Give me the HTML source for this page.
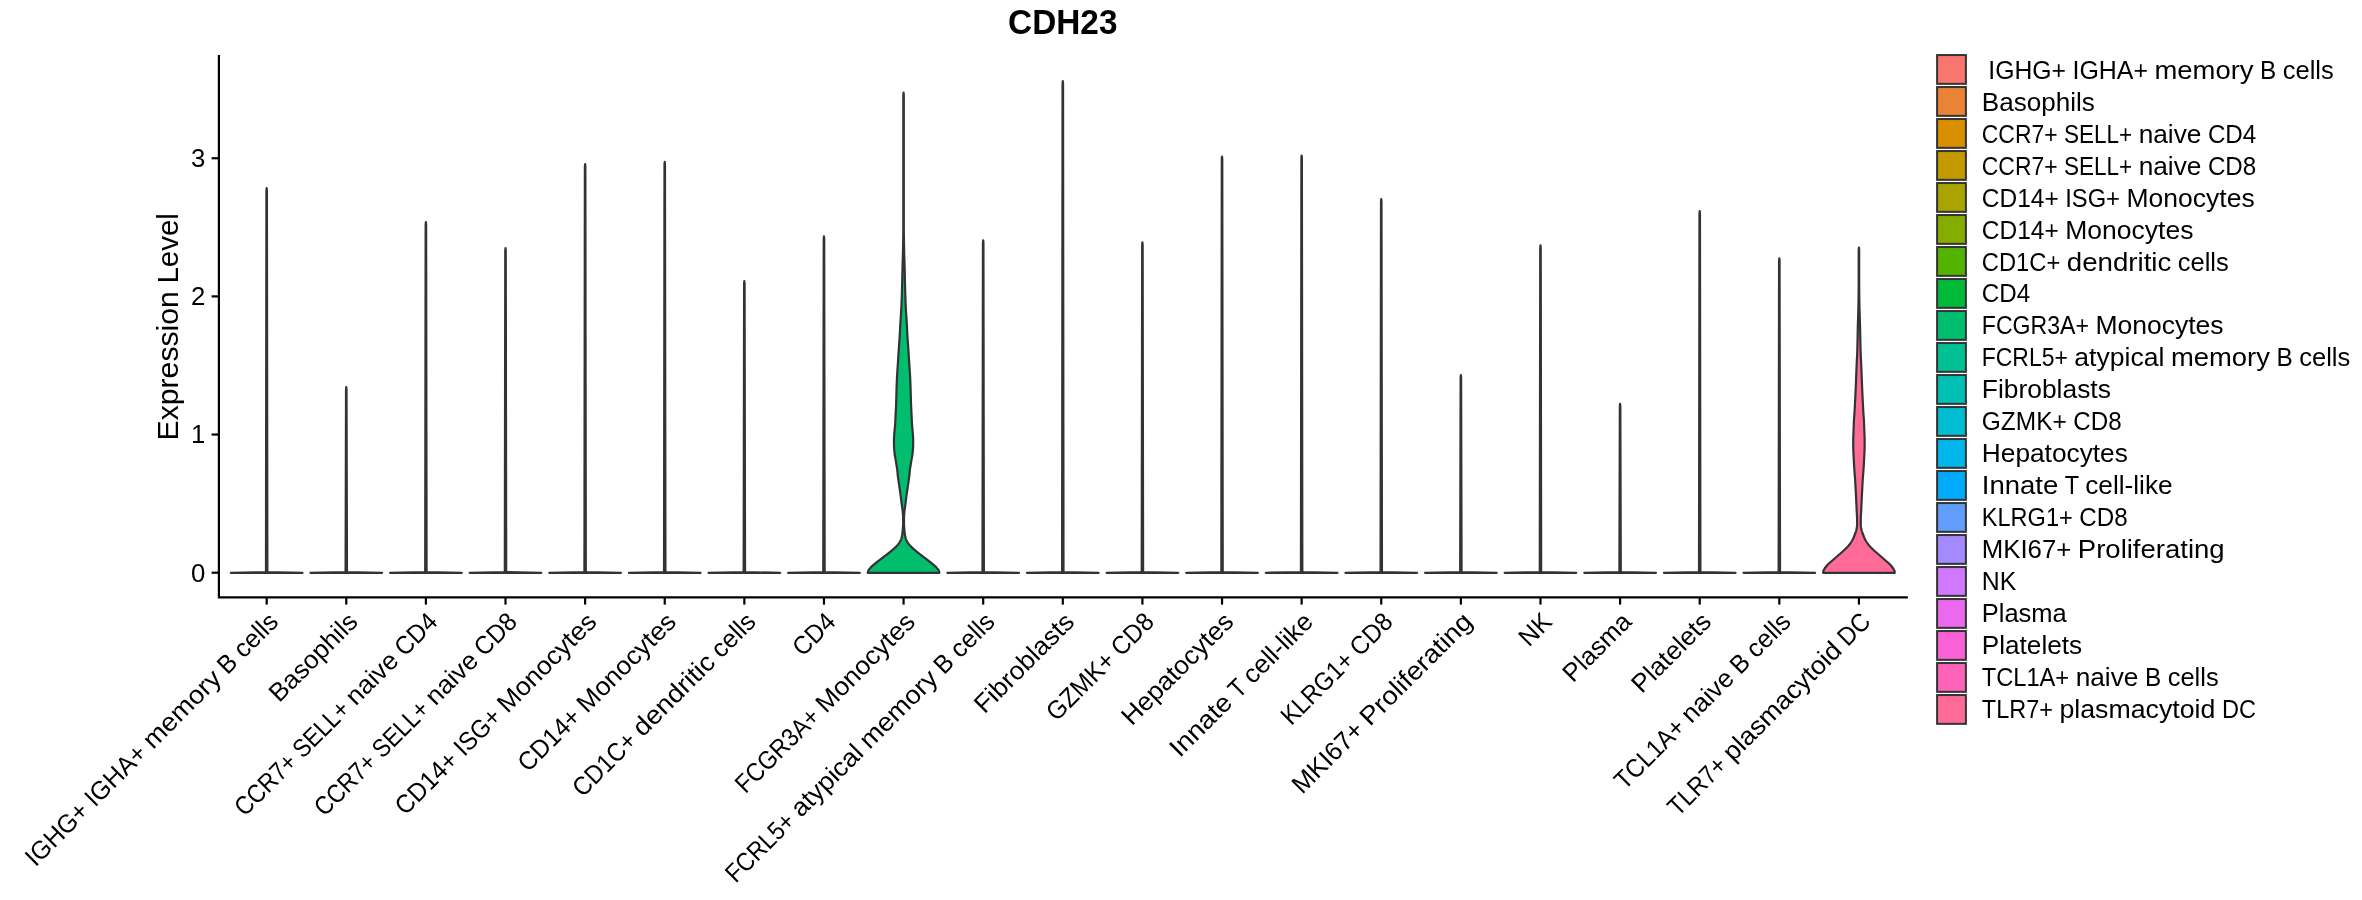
<!DOCTYPE html><html><head><meta charset="utf-8"><title>CDH23</title><style>html,body{margin:0;padding:0;background:#fff;overflow:hidden;width:2362px;height:900px;}svg{display:block;will-change:transform;}text{font-family:'Liberation Sans', sans-serif;fill:#000;}</style></head><body>
<svg width="2362" height="900" viewBox="0 0 2362 900">
<rect x="0" y="0" width="2362" height="900" fill="#fff"/>
<text x="1062.80" y="34.2" text-anchor="middle" font-weight="bold" font-size="34.33" textLength="109.42" lengthAdjust="spacingAndGlyphs">CDH23</text>
<g stroke="#333333" stroke-width="2.2" stroke-linejoin="round">
<path d="M230.84,572.80 L302.49,572.80 L267.37,572.10 L266.92,190.60 L266.67,188.10 L266.42,190.60 L265.97,572.10 Z" fill="#F8766D"/>
<path d="M310.46,572.80 L382.11,572.80 L346.98,572.10 L346.53,389.60 L346.28,387.10 L346.03,389.60 L345.58,572.10 Z" fill="#EB8335"/>
<path d="M390.07,572.80 L461.72,572.80 L426.59,572.10 L426.14,224.70 L425.89,222.20 L425.64,224.70 L425.19,572.10 Z" fill="#DA8F00"/>
<path d="M469.68,572.80 L541.33,572.80 L506.21,572.10 L505.76,250.60 L505.51,248.10 L505.26,250.60 L504.81,572.10 Z" fill="#C49A00"/>
<path d="M549.29,572.80 L620.95,572.80 L585.82,572.10 L585.37,166.60 L585.12,164.10 L584.87,166.60 L584.42,572.10 Z" fill="#A9A400"/>
<path d="M628.91,572.80 L700.56,572.80 L665.43,572.10 L664.98,164.30 L664.73,161.80 L664.48,164.30 L664.03,572.10 Z" fill="#86AC00"/>
<path d="M708.52,572.80 L780.17,572.80 L745.05,572.10 L744.60,283.60 L744.35,281.10 L744.10,283.60 L743.65,572.10 Z" fill="#53B400"/>
<path d="M788.13,572.80 L859.79,572.80 L824.66,572.10 L824.21,238.80 L823.96,236.30 L823.71,238.80 L823.26,572.10 Z" fill="#00BA38"/>
<path d="M903.57,92.60 L903.57,92.60 L903.47,93.60 L903.37,94.60 L903.32,95.60 L903.32,96.60 L903.32,97.60 L903.32,98.60 L903.32,99.60 L903.32,100.60 L903.32,101.60 L903.32,102.60 L903.32,103.60 L903.32,104.60 L903.32,105.60 L903.32,106.60 L903.32,107.60 L903.32,108.60 L903.32,109.60 L903.32,110.60 L903.32,111.60 L903.32,112.60 L903.32,113.60 L903.32,114.60 L903.32,115.60 L903.32,116.60 L903.32,117.60 L903.32,118.60 L903.32,119.60 L903.32,120.60 L903.32,121.60 L903.32,122.60 L903.32,123.60 L903.32,124.60 L903.32,125.60 L903.32,126.60 L903.32,127.60 L903.32,128.60 L903.32,129.60 L903.32,130.60 L903.32,131.60 L903.32,132.60 L903.32,133.60 L903.32,134.60 L903.32,135.60 L903.32,136.60 L903.32,137.60 L903.32,138.60 L903.32,139.60 L903.32,140.60 L903.32,141.60 L903.32,142.60 L903.32,143.60 L903.32,144.60 L903.32,145.60 L903.32,146.60 L903.32,147.60 L903.32,148.60 L903.32,149.60 L903.32,150.60 L903.32,151.60 L903.32,152.60 L903.32,153.60 L903.32,154.60 L903.32,155.60 L903.32,156.60 L903.32,157.60 L903.32,158.60 L903.32,159.60 L903.32,160.60 L903.32,161.60 L903.32,162.60 L903.32,163.60 L903.32,164.60 L903.32,165.60 L903.32,166.60 L903.32,167.60 L903.32,168.60 L903.32,169.60 L903.32,170.60 L903.32,171.60 L903.32,172.60 L903.32,173.60 L903.32,174.60 L903.32,175.60 L903.32,176.60 L903.32,177.60 L903.32,178.60 L903.32,179.60 L903.32,180.60 L903.32,181.60 L903.32,182.60 L903.32,183.60 L903.32,184.60 L903.32,185.60 L903.32,186.60 L903.32,187.60 L903.32,188.60 L903.32,189.60 L903.32,190.60 L903.32,191.60 L903.32,192.60 L903.32,193.60 L903.32,194.60 L903.32,195.60 L903.32,196.60 L903.32,197.60 L903.32,198.60 L903.32,199.60 L903.32,200.60 L903.32,201.60 L903.32,202.60 L903.32,203.60 L903.32,204.60 L903.32,205.60 L903.32,206.60 L903.32,207.60 L903.32,208.60 L903.32,209.60 L903.32,210.60 L903.32,211.60 L903.32,212.60 L903.32,213.60 L903.32,214.60 L903.32,215.60 L903.32,216.60 L903.32,217.60 L903.32,218.60 L903.32,219.60 L903.32,220.60 L903.32,221.60 L903.32,222.60 L903.32,223.60 L903.32,224.60 L903.32,225.60 L903.32,226.60 L903.32,227.60 L903.32,228.60 L903.32,229.60 L903.32,230.60 L903.32,231.60 L903.31,232.60 L903.30,233.60 L903.29,234.60 L903.28,235.60 L903.26,236.60 L903.25,237.60 L903.24,238.60 L903.22,239.60 L903.20,240.60 L903.19,241.60 L903.17,242.60 L903.15,243.60 L903.13,244.60 L903.11,245.60 L903.09,246.60 L903.07,247.60 L903.05,248.60 L903.03,249.60 L903.01,250.60 L902.99,251.60 L902.96,252.60 L902.94,253.60 L902.91,254.60 L902.88,255.60 L902.85,256.60 L902.81,257.60 L902.78,258.60 L902.75,259.60 L902.72,260.60 L902.68,261.60 L902.65,262.60 L902.62,263.60 L902.59,264.60 L902.56,265.60 L902.53,266.60 L902.51,267.60 L902.48,268.60 L902.46,269.60 L902.44,270.60 L902.41,271.60 L902.39,272.60 L902.37,273.60 L902.35,274.60 L902.32,275.60 L902.30,276.60 L902.28,277.60 L902.26,278.60 L902.23,279.60 L902.21,280.60 L902.19,281.60 L902.16,282.60 L902.14,283.60 L902.11,284.60 L902.09,285.60 L902.07,286.60 L902.04,287.60 L902.02,288.60 L901.99,289.60 L901.96,290.60 L901.94,291.60 L901.91,292.60 L901.88,293.60 L901.85,294.60 L901.82,295.60 L901.78,296.60 L901.75,297.60 L901.72,298.60 L901.68,299.60 L901.65,300.60 L901.61,301.60 L901.57,302.60 L901.53,303.60 L901.49,304.60 L901.45,305.60 L901.40,306.60 L901.35,307.60 L901.30,308.60 L901.24,309.60 L901.18,310.60 L901.12,311.60 L901.06,312.60 L900.99,313.60 L900.93,314.60 L900.86,315.60 L900.80,316.60 L900.73,317.60 L900.66,318.60 L900.60,319.60 L900.53,320.60 L900.47,321.60 L900.41,322.60 L900.35,323.60 L900.30,324.60 L900.24,325.60 L900.19,326.60 L900.14,327.60 L900.09,328.60 L900.05,329.60 L900.00,330.60 L899.95,331.60 L899.90,332.60 L899.85,333.60 L899.80,334.60 L899.74,335.60 L899.67,336.60 L899.61,337.60 L899.54,338.60 L899.46,339.60 L899.39,340.60 L899.32,341.60 L899.24,342.60 L899.17,343.60 L899.10,344.60 L899.03,345.60 L898.97,346.60 L898.90,347.60 L898.84,348.60 L898.77,349.60 L898.71,350.60 L898.64,351.60 L898.58,352.60 L898.51,353.60 L898.45,354.60 L898.38,355.60 L898.32,356.60 L898.25,357.60 L898.19,358.60 L898.12,359.60 L898.06,360.60 L897.99,361.60 L897.93,362.60 L897.86,363.60 L897.80,364.60 L897.73,365.60 L897.67,366.60 L897.60,367.60 L897.53,368.60 L897.46,369.60 L897.39,370.60 L897.33,371.60 L897.26,372.60 L897.20,373.60 L897.15,374.60 L897.09,375.60 L897.04,376.60 L896.99,377.60 L896.94,378.60 L896.90,379.60 L896.85,380.60 L896.81,381.60 L896.77,382.60 L896.73,383.60 L896.69,384.60 L896.65,385.60 L896.62,386.60 L896.59,387.60 L896.56,388.60 L896.53,389.60 L896.50,390.60 L896.47,391.60 L896.44,392.60 L896.41,393.60 L896.39,394.60 L896.36,395.60 L896.33,396.60 L896.30,397.60 L896.27,398.60 L896.24,399.60 L896.22,400.60 L896.19,401.60 L896.16,402.60 L896.12,403.60 L896.09,404.60 L896.05,405.60 L896.01,406.60 L895.96,407.60 L895.91,408.60 L895.86,409.60 L895.81,410.60 L895.75,411.60 L895.70,412.60 L895.65,413.60 L895.59,414.60 L895.54,415.60 L895.50,416.60 L895.45,417.60 L895.41,418.60 L895.36,419.60 L895.32,420.60 L895.27,421.60 L895.22,422.60 L895.16,423.60 L895.10,424.60 L895.03,425.60 L894.95,426.60 L894.85,427.60 L894.75,428.60 L894.66,429.60 L894.57,430.60 L894.49,431.60 L894.40,432.60 L894.32,433.60 L894.25,434.60 L894.19,435.60 L894.12,436.60 L894.05,437.60 L894.00,438.60 L893.98,439.60 L893.97,440.60 L893.97,441.60 L893.97,442.60 L893.97,443.60 L893.97,444.60 L893.98,445.60 L894.02,446.60 L894.08,447.60 L894.16,448.60 L894.24,449.60 L894.32,450.60 L894.41,451.60 L894.50,452.60 L894.61,453.60 L894.72,454.60 L894.86,455.60 L895.03,456.60 L895.22,457.60 L895.41,458.60 L895.60,459.60 L895.77,460.60 L895.94,461.60 L896.10,462.60 L896.25,463.60 L896.41,464.60 L896.57,465.60 L896.75,466.60 L896.92,467.60 L897.08,468.60 L897.22,469.60 L897.34,470.60 L897.43,471.60 L897.51,472.60 L897.59,473.60 L897.68,474.60 L897.79,475.60 L897.91,476.60 L898.04,477.60 L898.18,478.60 L898.32,479.60 L898.47,480.60 L898.62,481.60 L898.77,482.60 L898.92,483.60 L899.07,484.60 L899.21,485.60 L899.36,486.60 L899.50,487.60 L899.65,488.60 L899.80,489.60 L899.95,490.60 L900.09,491.60 L900.24,492.60 L900.38,493.60 L900.52,494.60 L900.65,495.60 L900.78,496.60 L900.91,497.60 L901.03,498.60 L901.15,499.60 L901.28,500.60 L901.40,501.60 L901.52,502.60 L901.64,503.60 L901.77,504.60 L901.90,505.60 L902.05,506.60 L902.20,507.60 L902.36,508.60 L902.50,509.60 L902.63,510.60 L902.74,511.60 L902.82,512.60 L902.90,513.60 L902.98,514.60 L903.05,515.60 L903.10,516.60 L903.12,517.60 L903.12,518.60 L903.12,519.60 L903.12,520.60 L903.12,521.60 L903.12,522.60 L903.12,523.60 L903.12,524.60 L903.08,525.60 L903.02,526.60 L902.94,527.60 L902.85,528.60 L902.76,529.60 L902.67,530.60 L902.58,531.60 L902.48,532.60 L902.37,533.60 L902.23,534.60 L902.07,535.60 L901.87,536.60 L901.63,537.60 L901.35,538.60 L901.02,539.60 L900.62,540.60 L900.08,541.60 L899.43,542.60 L898.69,543.60 L897.90,544.60 L897.06,545.60 L896.11,546.60 L895.07,547.60 L893.96,548.60 L892.83,549.60 L891.68,550.60 L890.48,551.60 L889.24,552.60 L887.97,553.60 L886.69,554.60 L885.40,555.60 L884.08,556.60 L882.74,557.60 L881.40,558.60 L880.09,559.60 L878.81,560.60 L877.53,561.60 L876.27,562.60 L875.04,563.60 L873.84,564.60 L872.67,565.60 L871.56,566.60 L870.67,567.60 L869.89,568.60 L868.97,569.60 L868.33,570.60 L867.95,571.60 L867.76,572.60 L867.75,572.80 L939.40,572.80 L939.39,572.60 L939.20,571.60 L938.81,570.60 L938.18,569.60 L937.26,568.60 L936.47,567.60 L935.58,566.60 L934.47,565.60 L933.31,564.60 L932.11,563.60 L930.88,562.60 L929.62,561.60 L928.34,560.60 L927.06,559.60 L925.74,558.60 L924.41,557.60 L923.07,556.60 L921.75,555.60 L920.46,554.60 L919.18,553.60 L917.91,552.60 L916.66,551.60 L915.46,550.60 L914.32,549.60 L913.19,548.60 L912.08,547.60 L911.03,546.60 L910.08,545.60 L909.25,544.60 L908.46,543.60 L907.72,542.60 L907.07,541.60 L906.53,540.60 L906.13,539.60 L905.80,538.60 L905.51,537.60 L905.27,536.60 L905.07,535.60 L904.91,534.60 L904.78,533.60 L904.66,532.60 L904.56,531.60 L904.47,530.60 L904.39,529.60 L904.30,528.60 L904.21,527.60 L904.13,526.60 L904.07,525.60 L904.03,524.60 L904.02,523.60 L904.02,522.60 L904.02,521.60 L904.02,520.60 L904.02,519.60 L904.02,518.60 L904.03,517.60 L904.05,516.60 L904.10,515.60 L904.17,514.60 L904.24,513.60 L904.32,512.60 L904.41,511.60 L904.52,510.60 L904.65,509.60 L904.79,508.60 L904.94,507.60 L905.10,506.60 L905.24,505.60 L905.38,504.60 L905.50,503.60 L905.63,502.60 L905.75,501.60 L905.87,500.60 L905.99,499.60 L906.11,498.60 L906.24,497.60 L906.36,496.60 L906.49,495.60 L906.63,494.60 L906.77,493.60 L906.91,492.60 L907.05,491.60 L907.20,490.60 L907.35,489.60 L907.50,488.60 L907.64,487.60 L907.79,486.60 L907.94,485.60 L908.08,484.60 L908.23,483.60 L908.38,482.60 L908.53,481.60 L908.68,480.60 L908.83,479.60 L908.97,478.60 L909.11,477.60 L909.24,476.60 L909.36,475.60 L909.46,474.60 L909.55,473.60 L909.64,472.60 L909.72,471.60 L909.81,470.60 L909.92,469.60 L910.07,468.60 L910.23,467.60 L910.40,466.60 L910.57,465.60 L910.74,464.60 L910.89,463.60 L911.05,462.60 L911.21,461.60 L911.37,460.60 L911.54,459.60 L911.73,458.60 L911.93,457.60 L912.12,456.60 L912.29,455.60 L912.42,454.60 L912.54,453.60 L912.65,452.60 L912.74,451.60 L912.83,450.60 L912.90,449.60 L912.99,448.60 L913.06,447.60 L913.13,446.60 L913.17,445.60 L913.17,444.60 L913.17,443.60 L913.17,442.60 L913.17,441.60 L913.17,440.60 L913.17,439.60 L913.14,438.60 L913.09,437.60 L913.03,436.60 L912.96,435.60 L912.90,434.60 L912.83,433.60 L912.75,432.60 L912.66,431.60 L912.57,430.60 L912.49,429.60 L912.39,428.60 L912.30,427.60 L912.20,426.60 L912.12,425.60 L912.05,424.60 L911.99,423.60 L911.93,422.60 L911.88,421.60 L911.83,420.60 L911.78,419.60 L911.74,418.60 L911.70,417.60 L911.65,416.60 L911.60,415.60 L911.55,414.60 L911.50,413.60 L911.45,412.60 L911.39,411.60 L911.34,410.60 L911.29,409.60 L911.24,408.60 L911.19,407.60 L911.14,406.60 L911.10,405.60 L911.06,404.60 L911.02,403.60 L910.99,402.60 L910.96,401.60 L910.93,400.60 L910.90,399.60 L910.88,398.60 L910.85,397.60 L910.82,396.60 L910.79,395.60 L910.76,394.60 L910.73,393.60 L910.70,392.60 L910.68,391.60 L910.65,390.60 L910.62,389.60 L910.59,388.60 L910.56,387.60 L910.53,386.60 L910.49,385.60 L910.46,384.60 L910.42,383.60 L910.38,382.60 L910.34,381.60 L910.30,380.60 L910.25,379.60 L910.21,378.60 L910.16,377.60 L910.11,376.60 L910.06,375.60 L910.00,374.60 L909.94,373.60 L909.88,372.60 L909.82,371.60 L909.75,370.60 L909.69,369.60 L909.62,368.60 L909.55,367.60 L909.48,366.60 L909.41,365.60 L909.35,364.60 L909.28,363.60 L909.22,362.60 L909.15,361.60 L909.09,360.60 L909.02,359.60 L908.96,358.60 L908.89,357.60 L908.83,356.60 L908.76,355.60 L908.70,354.60 L908.63,353.60 L908.57,352.60 L908.50,351.60 L908.44,350.60 L908.38,349.60 L908.31,348.60 L908.25,347.60 L908.18,346.60 L908.11,345.60 L908.05,344.60 L907.98,343.60 L907.90,342.60 L907.83,341.60 L907.76,340.60 L907.68,339.60 L907.61,338.60 L907.54,337.60 L907.47,336.60 L907.41,335.60 L907.35,334.60 L907.30,333.60 L907.24,332.60 L907.19,331.60 L907.15,330.60 L907.10,329.60 L907.05,328.60 L907.01,327.60 L906.96,326.60 L906.91,325.60 L906.85,324.60 L906.80,323.60 L906.74,322.60 L906.68,321.60 L906.61,320.60 L906.55,319.60 L906.48,318.60 L906.42,317.60 L906.35,316.60 L906.29,315.60 L906.22,314.60 L906.15,313.60 L906.09,312.60 L906.03,311.60 L905.97,310.60 L905.91,309.60 L905.85,308.60 L905.80,307.60 L905.75,306.60 L905.70,305.60 L905.66,304.60 L905.61,303.60 L905.57,302.60 L905.54,301.60 L905.50,300.60 L905.46,299.60 L905.43,298.60 L905.40,297.60 L905.36,296.60 L905.33,295.60 L905.30,294.60 L905.27,293.60 L905.24,292.60 L905.21,291.60 L905.18,290.60 L905.16,289.60 L905.13,288.60 L905.11,287.60 L905.08,286.60 L905.06,285.60 L905.03,284.60 L905.01,283.60 L904.99,282.60 L904.96,281.60 L904.94,280.60 L904.91,279.60 L904.89,278.60 L904.87,277.60 L904.85,276.60 L904.82,275.60 L904.80,274.60 L904.78,273.60 L904.76,272.60 L904.73,271.60 L904.71,270.60 L904.69,269.60 L904.66,268.60 L904.64,267.60 L904.61,266.60 L904.59,265.60 L904.56,264.60 L904.53,263.60 L904.50,262.60 L904.46,261.60 L904.43,260.60 L904.40,259.60 L904.36,258.60 L904.33,257.60 L904.30,256.60 L904.27,255.60 L904.24,254.60 L904.21,253.60 L904.18,252.60 L904.16,251.60 L904.14,250.60 L904.12,249.60 L904.10,248.60 L904.08,247.60 L904.06,246.60 L904.04,245.60 L904.02,244.60 L904.00,243.60 L903.98,242.60 L903.96,241.60 L903.94,240.60 L903.93,239.60 L903.91,238.60 L903.90,237.60 L903.88,236.60 L903.87,235.60 L903.86,234.60 L903.85,233.60 L903.84,232.60 L903.83,231.60 L903.83,230.60 L903.82,229.60 L903.82,228.60 L903.82,227.60 L903.82,226.60 L903.82,225.60 L903.82,224.60 L903.82,223.60 L903.82,222.60 L903.82,221.60 L903.82,220.60 L903.82,219.60 L903.82,218.60 L903.82,217.60 L903.82,216.60 L903.82,215.60 L903.82,214.60 L903.82,213.60 L903.82,212.60 L903.82,211.60 L903.82,210.60 L903.82,209.60 L903.82,208.60 L903.82,207.60 L903.82,206.60 L903.82,205.60 L903.82,204.60 L903.82,203.60 L903.82,202.60 L903.82,201.60 L903.82,200.60 L903.82,199.60 L903.82,198.60 L903.82,197.60 L903.82,196.60 L903.82,195.60 L903.82,194.60 L903.82,193.60 L903.82,192.60 L903.82,191.60 L903.82,190.60 L903.82,189.60 L903.82,188.60 L903.82,187.60 L903.82,186.60 L903.82,185.60 L903.82,184.60 L903.82,183.60 L903.82,182.60 L903.82,181.60 L903.82,180.60 L903.82,179.60 L903.82,178.60 L903.82,177.60 L903.82,176.60 L903.82,175.60 L903.82,174.60 L903.82,173.60 L903.82,172.60 L903.82,171.60 L903.82,170.60 L903.82,169.60 L903.82,168.60 L903.82,167.60 L903.82,166.60 L903.82,165.60 L903.82,164.60 L903.82,163.60 L903.82,162.60 L903.82,161.60 L903.82,160.60 L903.82,159.60 L903.82,158.60 L903.82,157.60 L903.82,156.60 L903.82,155.60 L903.82,154.60 L903.82,153.60 L903.82,152.60 L903.82,151.60 L903.82,150.60 L903.82,149.60 L903.82,148.60 L903.82,147.60 L903.82,146.60 L903.82,145.60 L903.82,144.60 L903.82,143.60 L903.82,142.60 L903.82,141.60 L903.82,140.60 L903.82,139.60 L903.82,138.60 L903.82,137.60 L903.82,136.60 L903.82,135.60 L903.82,134.60 L903.82,133.60 L903.82,132.60 L903.82,131.60 L903.82,130.60 L903.82,129.60 L903.82,128.60 L903.82,127.60 L903.82,126.60 L903.82,125.60 L903.82,124.60 L903.82,123.60 L903.82,122.60 L903.82,121.60 L903.82,120.60 L903.82,119.60 L903.82,118.60 L903.82,117.60 L903.82,116.60 L903.82,115.60 L903.82,114.60 L903.82,113.60 L903.82,112.60 L903.82,111.60 L903.82,110.60 L903.82,109.60 L903.82,108.60 L903.82,107.60 L903.82,106.60 L903.82,105.60 L903.82,104.60 L903.82,103.60 L903.82,102.60 L903.82,101.60 L903.82,100.60 L903.82,99.60 L903.82,98.60 L903.82,97.60 L903.82,96.60 L903.82,95.60 L903.77,94.60 L903.67,93.60 L903.57,92.60 Z" fill="#00BE6D"/>
<path d="M947.36,572.80 L1019.01,572.80 L983.89,572.10 L983.44,242.80 L983.19,240.30 L982.94,242.80 L982.49,572.10 Z" fill="#00C094"/>
<path d="M1026.97,572.80 L1098.63,572.80 L1063.50,572.10 L1063.05,83.60 L1062.80,81.10 L1062.55,83.60 L1062.10,572.10 Z" fill="#00C0B5"/>
<path d="M1106.59,572.80 L1178.24,572.80 L1143.11,572.10 L1142.66,244.90 L1142.41,242.40 L1142.16,244.90 L1141.71,572.10 Z" fill="#00BDD2"/>
<path d="M1186.20,572.80 L1257.85,572.80 L1222.73,572.10 L1222.28,159.20 L1222.03,156.70 L1221.78,159.20 L1221.33,572.10 Z" fill="#00B6EB"/>
<path d="M1265.81,572.80 L1337.47,572.80 L1302.34,572.10 L1301.89,158.20 L1301.64,155.70 L1301.39,158.20 L1300.94,572.10 Z" fill="#00ABFD"/>
<path d="M1345.43,572.80 L1417.08,572.80 L1381.95,572.10 L1381.50,201.50 L1381.25,199.00 L1381.00,201.50 L1380.55,572.10 Z" fill="#619CFF"/>
<path d="M1425.04,572.80 L1496.69,572.80 L1461.57,572.10 L1461.12,377.60 L1460.87,375.10 L1460.62,377.60 L1460.17,572.10 Z" fill="#A58AFF"/>
<path d="M1504.65,572.80 L1576.31,572.80 L1541.18,572.10 L1540.73,247.80 L1540.48,245.30 L1540.23,247.80 L1539.78,572.10 Z" fill="#D078FF"/>
<path d="M1584.27,572.80 L1655.92,572.80 L1620.79,572.10 L1620.34,406.30 L1620.09,403.80 L1619.84,406.30 L1619.39,572.10 Z" fill="#EC69EF"/>
<path d="M1663.88,572.80 L1735.53,572.80 L1700.41,572.10 L1699.96,213.50 L1699.71,211.00 L1699.46,213.50 L1699.01,572.10 Z" fill="#FB61D7"/>
<path d="M1743.49,572.80 L1815.14,572.80 L1780.02,572.10 L1779.57,260.80 L1779.32,258.30 L1779.07,260.80 L1778.62,572.10 Z" fill="#FF63B9"/>
<path d="M1858.93,247.50 L1858.93,247.50 L1858.83,248.50 L1858.73,249.50 L1858.68,250.50 L1858.68,251.50 L1858.68,252.50 L1858.68,253.50 L1858.68,254.50 L1858.68,255.50 L1858.68,256.50 L1858.68,257.50 L1858.68,258.50 L1858.68,259.50 L1858.68,260.50 L1858.68,261.50 L1858.68,262.50 L1858.68,263.50 L1858.68,264.50 L1858.68,265.50 L1858.68,266.50 L1858.68,267.50 L1858.68,268.50 L1858.68,269.50 L1858.68,270.50 L1858.68,271.50 L1858.68,272.50 L1858.68,273.50 L1858.68,274.50 L1858.68,275.50 L1858.68,276.50 L1858.68,277.50 L1858.68,278.50 L1858.68,279.50 L1858.68,280.50 L1858.68,281.50 L1858.68,282.50 L1858.68,283.50 L1858.68,284.50 L1858.68,285.50 L1858.67,286.50 L1858.66,287.50 L1858.65,288.50 L1858.64,289.50 L1858.63,290.50 L1858.62,291.50 L1858.61,292.50 L1858.60,293.50 L1858.58,294.50 L1858.57,295.50 L1858.56,296.50 L1858.55,297.50 L1858.53,298.50 L1858.52,299.50 L1858.50,300.50 L1858.49,301.50 L1858.47,302.50 L1858.46,303.50 L1858.44,304.50 L1858.42,305.50 L1858.40,306.50 L1858.38,307.50 L1858.36,308.50 L1858.33,309.50 L1858.31,310.50 L1858.28,311.50 L1858.25,312.50 L1858.22,313.50 L1858.19,314.50 L1858.16,315.50 L1858.13,316.50 L1858.09,317.50 L1858.06,318.50 L1858.03,319.50 L1858.00,320.50 L1857.96,321.50 L1857.93,322.50 L1857.90,323.50 L1857.87,324.50 L1857.85,325.50 L1857.82,326.50 L1857.79,327.50 L1857.77,328.50 L1857.75,329.50 L1857.73,330.50 L1857.71,331.50 L1857.69,332.50 L1857.67,333.50 L1857.65,334.50 L1857.63,335.50 L1857.61,336.50 L1857.59,337.50 L1857.57,338.50 L1857.54,339.50 L1857.52,340.50 L1857.50,341.50 L1857.48,342.50 L1857.45,343.50 L1857.43,344.50 L1857.41,345.50 L1857.38,346.50 L1857.36,347.50 L1857.33,348.50 L1857.31,349.50 L1857.28,350.50 L1857.25,351.50 L1857.22,352.50 L1857.18,353.50 L1857.14,354.50 L1857.09,355.50 L1857.05,356.50 L1857.00,357.50 L1856.95,358.50 L1856.90,359.50 L1856.85,360.50 L1856.80,361.50 L1856.75,362.50 L1856.70,363.50 L1856.65,364.50 L1856.61,365.50 L1856.57,366.50 L1856.53,367.50 L1856.49,368.50 L1856.45,369.50 L1856.41,370.50 L1856.37,371.50 L1856.33,372.50 L1856.29,373.50 L1856.25,374.50 L1856.21,375.50 L1856.18,376.50 L1856.14,377.50 L1856.10,378.50 L1856.06,379.50 L1856.02,380.50 L1855.99,381.50 L1855.95,382.50 L1855.91,383.50 L1855.87,384.50 L1855.83,385.50 L1855.78,386.50 L1855.74,387.50 L1855.70,388.50 L1855.65,389.50 L1855.61,390.50 L1855.56,391.50 L1855.52,392.50 L1855.47,393.50 L1855.43,394.50 L1855.38,395.50 L1855.33,396.50 L1855.29,397.50 L1855.24,398.50 L1855.19,399.50 L1855.14,400.50 L1855.09,401.50 L1855.04,402.50 L1854.99,403.50 L1854.94,404.50 L1854.88,405.50 L1854.83,406.50 L1854.78,407.50 L1854.72,408.50 L1854.66,409.50 L1854.61,410.50 L1854.55,411.50 L1854.49,412.50 L1854.43,413.50 L1854.36,414.50 L1854.30,415.50 L1854.22,416.50 L1854.14,417.50 L1854.06,418.50 L1853.99,419.50 L1853.94,420.50 L1853.89,421.50 L1853.84,422.50 L1853.80,423.50 L1853.76,424.50 L1853.73,425.50 L1853.69,426.50 L1853.66,427.50 L1853.63,428.50 L1853.59,429.50 L1853.55,430.50 L1853.51,431.50 L1853.47,432.50 L1853.43,433.50 L1853.39,434.50 L1853.35,435.50 L1853.31,436.50 L1853.28,437.50 L1853.25,438.50 L1853.24,439.50 L1853.23,440.50 L1853.22,441.50 L1853.22,442.50 L1853.21,443.50 L1853.21,444.50 L1853.21,445.50 L1853.23,446.50 L1853.25,447.50 L1853.28,448.50 L1853.32,449.50 L1853.35,450.50 L1853.38,451.50 L1853.42,452.50 L1853.46,453.50 L1853.51,454.50 L1853.55,455.50 L1853.60,456.50 L1853.65,457.50 L1853.70,458.50 L1853.76,459.50 L1853.81,460.50 L1853.86,461.50 L1853.92,462.50 L1853.97,463.50 L1854.03,464.50 L1854.09,465.50 L1854.16,466.50 L1854.22,467.50 L1854.28,468.50 L1854.35,469.50 L1854.42,470.50 L1854.49,471.50 L1854.56,472.50 L1854.64,473.50 L1854.72,474.50 L1854.80,475.50 L1854.88,476.50 L1854.96,477.50 L1855.03,478.50 L1855.10,479.50 L1855.16,480.50 L1855.22,481.50 L1855.28,482.50 L1855.34,483.50 L1855.39,484.50 L1855.45,485.50 L1855.50,486.50 L1855.55,487.50 L1855.60,488.50 L1855.66,489.50 L1855.71,490.50 L1855.76,491.50 L1855.81,492.50 L1855.86,493.50 L1855.91,494.50 L1855.96,495.50 L1856.01,496.50 L1856.06,497.50 L1856.11,498.50 L1856.16,499.50 L1856.21,500.50 L1856.25,501.50 L1856.30,502.50 L1856.35,503.50 L1856.40,504.50 L1856.45,505.50 L1856.49,506.50 L1856.54,507.50 L1856.58,508.50 L1856.63,509.50 L1856.68,510.50 L1856.73,511.50 L1856.78,512.50 L1856.84,513.50 L1856.90,514.50 L1856.95,515.50 L1857.00,516.50 L1857.04,517.50 L1857.06,518.50 L1857.08,519.50 L1857.08,520.50 L1857.08,521.50 L1857.08,522.50 L1857.08,523.50 L1857.08,524.50 L1857.07,525.50 L1856.99,526.50 L1856.84,527.50 L1856.65,528.50 L1856.44,529.50 L1856.22,530.50 L1855.93,531.50 L1855.59,532.50 L1855.22,533.50 L1854.83,534.50 L1854.44,535.50 L1854.04,536.50 L1853.62,537.50 L1853.17,538.50 L1852.69,539.50 L1852.16,540.50 L1851.58,541.50 L1850.94,542.50 L1850.25,543.50 L1849.52,544.50 L1848.73,545.50 L1847.85,546.50 L1846.89,547.50 L1845.89,548.50 L1844.85,549.50 L1843.80,550.50 L1842.69,551.50 L1841.54,552.50 L1840.37,553.50 L1839.21,554.50 L1838.06,555.50 L1836.92,556.50 L1835.78,557.50 L1834.63,558.50 L1833.50,559.50 L1832.36,560.50 L1831.18,561.50 L1830.00,562.50 L1828.86,563.50 L1827.81,564.50 L1826.90,565.50 L1826.11,566.50 L1825.35,567.50 L1824.63,568.50 L1823.99,569.50 L1823.52,570.50 L1823.23,571.50 L1823.12,572.50 L1823.11,572.80 L1894.76,572.80 L1894.75,572.50 L1894.63,571.50 L1894.34,570.50 L1893.88,569.50 L1893.23,568.50 L1892.51,567.50 L1891.75,566.50 L1890.97,565.50 L1890.06,564.50 L1889.01,563.50 L1887.87,562.50 L1886.68,561.50 L1885.51,560.50 L1884.37,559.50 L1883.23,558.50 L1882.09,557.50 L1880.95,556.50 L1879.80,555.50 L1878.66,554.50 L1877.49,553.50 L1876.32,552.50 L1875.17,551.50 L1874.06,550.50 L1873.01,549.50 L1871.98,548.50 L1870.97,547.50 L1870.02,546.50 L1869.14,545.50 L1868.35,544.50 L1867.61,543.50 L1866.92,542.50 L1866.29,541.50 L1865.70,540.50 L1865.17,539.50 L1864.69,538.50 L1864.24,537.50 L1863.82,536.50 L1863.43,535.50 L1863.04,534.50 L1862.65,533.50 L1862.27,532.50 L1861.93,531.50 L1861.65,530.50 L1861.43,529.50 L1861.22,528.50 L1861.03,527.50 L1860.88,526.50 L1860.79,525.50 L1860.78,524.50 L1860.78,523.50 L1860.78,522.50 L1860.78,521.50 L1860.78,520.50 L1860.78,519.50 L1860.80,518.50 L1860.83,517.50 L1860.87,516.50 L1860.91,515.50 L1860.97,514.50 L1861.02,513.50 L1861.08,512.50 L1861.14,511.50 L1861.19,510.50 L1861.23,509.50 L1861.28,508.50 L1861.33,507.50 L1861.37,506.50 L1861.42,505.50 L1861.47,504.50 L1861.51,503.50 L1861.56,502.50 L1861.61,501.50 L1861.66,500.50 L1861.71,499.50 L1861.75,498.50 L1861.80,497.50 L1861.85,496.50 L1861.90,495.50 L1861.95,494.50 L1862.00,493.50 L1862.05,492.50 L1862.10,491.50 L1862.16,490.50 L1862.21,489.50 L1862.26,488.50 L1862.31,487.50 L1862.36,486.50 L1862.42,485.50 L1862.47,484.50 L1862.52,483.50 L1862.58,482.50 L1862.64,481.50 L1862.70,480.50 L1862.76,479.50 L1862.83,478.50 L1862.91,477.50 L1862.98,476.50 L1863.06,475.50 L1863.14,474.50 L1863.22,473.50 L1863.30,472.50 L1863.38,471.50 L1863.45,470.50 L1863.52,469.50 L1863.58,468.50 L1863.65,467.50 L1863.71,466.50 L1863.77,465.50 L1863.83,464.50 L1863.89,463.50 L1863.95,462.50 L1864.00,461.50 L1864.06,460.50 L1864.11,459.50 L1864.16,458.50 L1864.21,457.50 L1864.26,456.50 L1864.31,455.50 L1864.36,454.50 L1864.40,453.50 L1864.44,452.50 L1864.48,451.50 L1864.52,450.50 L1864.55,449.50 L1864.58,448.50 L1864.61,447.50 L1864.64,446.50 L1864.65,445.50 L1864.65,444.50 L1864.65,443.50 L1864.65,442.50 L1864.64,441.50 L1864.64,440.50 L1864.63,439.50 L1864.61,438.50 L1864.59,437.50 L1864.56,436.50 L1864.52,435.50 L1864.48,434.50 L1864.44,433.50 L1864.39,432.50 L1864.35,431.50 L1864.31,430.50 L1864.27,429.50 L1864.24,428.50 L1864.20,427.50 L1864.17,426.50 L1864.14,425.50 L1864.10,424.50 L1864.06,423.50 L1864.02,422.50 L1863.98,421.50 L1863.93,420.50 L1863.87,419.50 L1863.80,418.50 L1863.72,417.50 L1863.64,416.50 L1863.57,415.50 L1863.50,414.50 L1863.44,413.50 L1863.38,412.50 L1863.32,411.50 L1863.26,410.50 L1863.20,409.50 L1863.14,408.50 L1863.09,407.50 L1863.03,406.50 L1862.98,405.50 L1862.93,404.50 L1862.88,403.50 L1862.82,402.50 L1862.77,401.50 L1862.72,400.50 L1862.68,399.50 L1862.63,398.50 L1862.58,397.50 L1862.53,396.50 L1862.48,395.50 L1862.44,394.50 L1862.39,393.50 L1862.35,392.50 L1862.30,391.50 L1862.25,390.50 L1862.21,389.50 L1862.17,388.50 L1862.12,387.50 L1862.08,386.50 L1862.04,385.50 L1862.00,384.50 L1861.96,383.50 L1861.92,382.50 L1861.88,381.50 L1861.84,380.50 L1861.80,379.50 L1861.76,378.50 L1861.73,377.50 L1861.69,376.50 L1861.65,375.50 L1861.61,374.50 L1861.57,373.50 L1861.54,372.50 L1861.50,371.50 L1861.46,370.50 L1861.42,369.50 L1861.38,368.50 L1861.34,367.50 L1861.30,366.50 L1861.25,365.50 L1861.21,364.50 L1861.16,363.50 L1861.12,362.50 L1861.07,361.50 L1861.02,360.50 L1860.97,359.50 L1860.91,358.50 L1860.86,357.50 L1860.82,356.50 L1860.77,355.50 L1860.73,354.50 L1860.69,353.50 L1860.65,352.50 L1860.62,351.50 L1860.59,350.50 L1860.56,349.50 L1860.53,348.50 L1860.50,347.50 L1860.48,346.50 L1860.46,345.50 L1860.43,344.50 L1860.41,343.50 L1860.39,342.50 L1860.37,341.50 L1860.34,340.50 L1860.32,339.50 L1860.30,338.50 L1860.28,337.50 L1860.26,336.50 L1860.24,335.50 L1860.22,334.50 L1860.20,333.50 L1860.18,332.50 L1860.16,331.50 L1860.14,330.50 L1860.12,329.50 L1860.09,328.50 L1860.07,327.50 L1860.04,326.50 L1860.02,325.50 L1859.99,324.50 L1859.96,323.50 L1859.93,322.50 L1859.90,321.50 L1859.87,320.50 L1859.84,319.50 L1859.80,318.50 L1859.77,317.50 L1859.74,316.50 L1859.71,315.50 L1859.67,314.50 L1859.64,313.50 L1859.61,312.50 L1859.58,311.50 L1859.56,310.50 L1859.53,309.50 L1859.51,308.50 L1859.48,307.50 L1859.46,306.50 L1859.44,305.50 L1859.42,304.50 L1859.41,303.50 L1859.39,302.50 L1859.38,301.50 L1859.36,300.50 L1859.35,299.50 L1859.33,298.50 L1859.32,297.50 L1859.31,296.50 L1859.29,295.50 L1859.28,294.50 L1859.27,293.50 L1859.26,292.50 L1859.25,291.50 L1859.24,290.50 L1859.23,289.50 L1859.22,288.50 L1859.21,287.50 L1859.20,286.50 L1859.19,285.50 L1859.18,284.50 L1859.18,283.50 L1859.18,282.50 L1859.18,281.50 L1859.18,280.50 L1859.18,279.50 L1859.18,278.50 L1859.18,277.50 L1859.18,276.50 L1859.18,275.50 L1859.18,274.50 L1859.18,273.50 L1859.18,272.50 L1859.18,271.50 L1859.18,270.50 L1859.18,269.50 L1859.18,268.50 L1859.18,267.50 L1859.18,266.50 L1859.18,265.50 L1859.18,264.50 L1859.18,263.50 L1859.18,262.50 L1859.18,261.50 L1859.18,260.50 L1859.18,259.50 L1859.18,258.50 L1859.18,257.50 L1859.18,256.50 L1859.18,255.50 L1859.18,254.50 L1859.18,253.50 L1859.18,252.50 L1859.18,251.50 L1859.18,250.50 L1859.13,249.50 L1859.03,248.50 L1858.93,247.50 Z" fill="#FF6B96"/>
</g>
<g stroke="#000" stroke-width="2.2" stroke-linecap="square" fill="none">
<path d="M218.9,56.2 L218.9,597.3 L1906.7,597.3"/>
</g>
<g stroke="#000" stroke-width="2.2" fill="none">
<path d="M211.60,572.70 L218.90,572.70"/>
<path d="M211.60,434.55 L218.90,434.55"/>
<path d="M211.60,296.40 L218.90,296.40"/>
<path d="M211.60,158.25 L218.90,158.25"/>
<path d="M266.67,597.30 L266.67,604.60"/>
<path d="M346.28,597.30 L346.28,604.60"/>
<path d="M425.89,597.30 L425.89,604.60"/>
<path d="M505.51,597.30 L505.51,604.60"/>
<path d="M585.12,597.30 L585.12,604.60"/>
<path d="M664.73,597.30 L664.73,604.60"/>
<path d="M744.35,597.30 L744.35,604.60"/>
<path d="M823.96,597.30 L823.96,604.60"/>
<path d="M903.57,597.30 L903.57,604.60"/>
<path d="M983.19,597.30 L983.19,604.60"/>
<path d="M1062.80,597.30 L1062.80,604.60"/>
<path d="M1142.41,597.30 L1142.41,604.60"/>
<path d="M1222.03,597.30 L1222.03,604.60"/>
<path d="M1301.64,597.30 L1301.64,604.60"/>
<path d="M1381.25,597.30 L1381.25,604.60"/>
<path d="M1460.87,597.30 L1460.87,604.60"/>
<path d="M1540.48,597.30 L1540.48,604.60"/>
<path d="M1620.09,597.30 L1620.09,604.60"/>
<path d="M1699.71,597.30 L1699.71,604.60"/>
<path d="M1779.32,597.30 L1779.32,604.60"/>
<path d="M1858.93,597.30 L1858.93,604.60"/>
</g>
<text x="205.3" y="581.60" text-anchor="end" font-size="25.75" textLength="14.31" lengthAdjust="spacingAndGlyphs">0</text>
<text x="205.3" y="443.45" text-anchor="end" font-size="25.75" textLength="14.31" lengthAdjust="spacingAndGlyphs">1</text>
<text x="205.3" y="305.30" text-anchor="end" font-size="25.75" textLength="14.31" lengthAdjust="spacingAndGlyphs">2</text>
<text x="205.3" y="167.15" text-anchor="end" font-size="25.75" textLength="14.31" lengthAdjust="spacingAndGlyphs">3</text>
<text transform="translate(177.9,326.75) rotate(-90)" y="0" font-size="30.04"><tspan x="-113.66" textLength="149.22" lengthAdjust="spacingAndGlyphs">Expression</tspan> <tspan x="43.14" textLength="70.53" lengthAdjust="spacingAndGlyphs">Level</tspan></text>
<text transform="translate(279.67,623.30) rotate(-45)" y="0" font-size="25.75"><tspan x="-345.45" textLength="77.70" lengthAdjust="spacingAndGlyphs">IGHG+</tspan> <tspan x="-261.25" textLength="75.47" lengthAdjust="spacingAndGlyphs">IGHA+</tspan> <tspan x="-179.28" textLength="99.05" lengthAdjust="spacingAndGlyphs">memory</tspan> <tspan x="-73.73" textLength="16.25" lengthAdjust="spacingAndGlyphs">B</tspan> <tspan x="-50.98" textLength="50.98" lengthAdjust="spacingAndGlyphs">cells</tspan></text>
<text transform="translate(359.28,623.30) rotate(-45)" y="0" font-size="25.75"><tspan x="-113.08" textLength="113.08" lengthAdjust="spacingAndGlyphs">Basophils</tspan></text>
<text transform="translate(438.89,623.30) rotate(-45)" y="0" font-size="25.75"><tspan x="-274.45" textLength="75.75" lengthAdjust="spacingAndGlyphs">CCR7+</tspan> <tspan x="-192.20" textLength="68.12" lengthAdjust="spacingAndGlyphs">SELL+</tspan> <tspan x="-117.57" textLength="62.73" lengthAdjust="spacingAndGlyphs">naive</tspan> <tspan x="-48.35" textLength="48.35" lengthAdjust="spacingAndGlyphs">CD4</tspan></text>
<text transform="translate(518.51,623.30) rotate(-45)" y="0" font-size="25.75"><tspan x="-274.45" textLength="75.75" lengthAdjust="spacingAndGlyphs">CCR7+</tspan> <tspan x="-192.20" textLength="68.12" lengthAdjust="spacingAndGlyphs">SELL+</tspan> <tspan x="-117.57" textLength="62.73" lengthAdjust="spacingAndGlyphs">naive</tspan> <tspan x="-48.35" textLength="48.35" lengthAdjust="spacingAndGlyphs">CD8</tspan></text>
<text transform="translate(598.12,623.30) rotate(-45)" y="0" font-size="25.75"><tspan x="-272.88" textLength="76.95" lengthAdjust="spacingAndGlyphs">CD14+</tspan> <tspan x="-189.43" textLength="54.70" lengthAdjust="spacingAndGlyphs">ISG+</tspan> <tspan x="-128.23" textLength="128.22" lengthAdjust="spacingAndGlyphs">Monocytes</tspan></text>
<text transform="translate(677.73,623.30) rotate(-45)" y="0" font-size="25.75"><tspan x="-211.68" textLength="76.95" lengthAdjust="spacingAndGlyphs">CD14+</tspan> <tspan x="-128.23" textLength="128.22" lengthAdjust="spacingAndGlyphs">Monocytes</tspan></text>
<text transform="translate(757.35,623.30) rotate(-45)" y="0" font-size="25.75"><tspan x="-246.97" textLength="78.45" lengthAdjust="spacingAndGlyphs">CD1C+</tspan> <tspan x="-162.02" textLength="104.55" lengthAdjust="spacingAndGlyphs">dendritic</tspan> <tspan x="-50.97" textLength="50.98" lengthAdjust="spacingAndGlyphs">cells</tspan></text>
<text transform="translate(836.96,623.30) rotate(-45)" y="0" font-size="25.75"><tspan x="-48.35" textLength="48.35" lengthAdjust="spacingAndGlyphs">CD4</tspan></text>
<text transform="translate(916.57,623.30) rotate(-45)" y="0" font-size="25.75"><tspan x="-241.82" textLength="107.10" lengthAdjust="spacingAndGlyphs">FCGR3A+</tspan> <tspan x="-128.22" textLength="128.22" lengthAdjust="spacingAndGlyphs">Monocytes</tspan></text>
<text transform="translate(996.19,623.30) rotate(-45)" y="0" font-size="25.75"><tspan x="-368.40" textLength="86.03" lengthAdjust="spacingAndGlyphs">FCRL5+</tspan> <tspan x="-275.88" textLength="90.10" lengthAdjust="spacingAndGlyphs">atypical</tspan> <tspan x="-179.28" textLength="99.05" lengthAdjust="spacingAndGlyphs">memory</tspan> <tspan x="-73.73" textLength="16.25" lengthAdjust="spacingAndGlyphs">B</tspan> <tspan x="-50.98" textLength="50.98" lengthAdjust="spacingAndGlyphs">cells</tspan></text>
<text transform="translate(1075.80,623.30) rotate(-45)" y="0" font-size="25.75"><tspan x="-129.07" textLength="129.07" lengthAdjust="spacingAndGlyphs">Fibroblasts</tspan></text>
<text transform="translate(1155.41,623.30) rotate(-45)" y="0" font-size="25.75"><tspan x="-139.80" textLength="84.95" lengthAdjust="spacingAndGlyphs">GZMK+</tspan> <tspan x="-48.35" textLength="48.35" lengthAdjust="spacingAndGlyphs">CD8</tspan></text>
<text transform="translate(1235.03,623.30) rotate(-45)" y="0" font-size="25.75"><tspan x="-146.03" textLength="146.03" lengthAdjust="spacingAndGlyphs">Hepatocytes</tspan></text>
<text transform="translate(1314.64,623.30) rotate(-45)" y="0" font-size="25.75"><tspan x="-190.82" textLength="76.53" lengthAdjust="spacingAndGlyphs">Innate</tspan> <tspan x="-107.80" textLength="13.90" lengthAdjust="spacingAndGlyphs">T</tspan> <tspan x="-87.40" textLength="87.40" lengthAdjust="spacingAndGlyphs">cell-like</tspan></text>
<text transform="translate(1394.25,623.30) rotate(-45)" y="0" font-size="25.75"><tspan x="-145.78" textLength="90.92" lengthAdjust="spacingAndGlyphs">KLRG1+</tspan> <tspan x="-48.35" textLength="48.35" lengthAdjust="spacingAndGlyphs">CD8</tspan></text>
<text transform="translate(1473.87,623.30) rotate(-45)" y="0" font-size="25.75"><tspan x="-242.85" textLength="89.53" lengthAdjust="spacingAndGlyphs">MKI67+</tspan> <tspan x="-146.82" textLength="146.82" lengthAdjust="spacingAndGlyphs">Proliferating</tspan></text>
<text transform="translate(1553.48,623.30) rotate(-45)" y="0" font-size="25.75"><tspan x="-34.48" textLength="34.48" lengthAdjust="spacingAndGlyphs">NK</tspan></text>
<text transform="translate(1633.09,623.30) rotate(-45)" y="0" font-size="25.75"><tspan x="-84.97" textLength="84.97" lengthAdjust="spacingAndGlyphs">Plasma</tspan></text>
<text transform="translate(1712.71,623.30) rotate(-45)" y="0" font-size="25.75"><tspan x="-100.28" textLength="100.28" lengthAdjust="spacingAndGlyphs">Platelets</tspan></text>
<text transform="translate(1792.32,623.30) rotate(-45)" y="0" font-size="25.75"><tspan x="-236.82" textLength="87.38" lengthAdjust="spacingAndGlyphs">TCL1A+</tspan> <tspan x="-142.95" textLength="62.73" lengthAdjust="spacingAndGlyphs">naive</tspan> <tspan x="-73.72" textLength="16.25" lengthAdjust="spacingAndGlyphs">B</tspan> <tspan x="-50.97" textLength="50.98" lengthAdjust="spacingAndGlyphs">cells</tspan></text>
<text transform="translate(1871.93,623.30) rotate(-45)" y="0" font-size="25.75"><tspan x="-274.15" textLength="71.15" lengthAdjust="spacingAndGlyphs">TLR7+</tspan> <tspan x="-196.50" textLength="155.95" lengthAdjust="spacingAndGlyphs">plasmacytoid</tspan> <tspan x="-34.05" textLength="34.05" lengthAdjust="spacingAndGlyphs">DC</tspan></text>
<rect x="1937.10" y="55.05" width="28.8" height="28.8" fill="#F8766D" stroke="#333333" stroke-width="2"/>
<text y="78.70" font-size="25.75"><tspan x="1988.32" textLength="77.70" lengthAdjust="spacingAndGlyphs">IGHG+</tspan> <tspan x="2072.52" textLength="75.47" lengthAdjust="spacingAndGlyphs">IGHA+</tspan> <tspan x="2154.49" textLength="99.05" lengthAdjust="spacingAndGlyphs">memory</tspan> <tspan x="2260.05" textLength="16.25" lengthAdjust="spacingAndGlyphs">B</tspan> <tspan x="2282.80" textLength="50.98" lengthAdjust="spacingAndGlyphs">cells</tspan></text>
<rect x="1937.10" y="87.05" width="28.8" height="28.8" fill="#EB8335" stroke="#333333" stroke-width="2"/>
<text y="110.67" font-size="25.75"><tspan x="1981.80" textLength="113.08" lengthAdjust="spacingAndGlyphs">Basophils</tspan></text>
<rect x="1937.10" y="119.05" width="28.8" height="28.8" fill="#DA8F00" stroke="#333333" stroke-width="2"/>
<text y="142.64" font-size="25.75"><tspan x="1981.80" textLength="75.75" lengthAdjust="spacingAndGlyphs">CCR7+</tspan> <tspan x="2064.05" textLength="68.12" lengthAdjust="spacingAndGlyphs">SELL+</tspan> <tspan x="2138.68" textLength="62.73" lengthAdjust="spacingAndGlyphs">naive</tspan> <tspan x="2207.90" textLength="48.35" lengthAdjust="spacingAndGlyphs">CD4</tspan></text>
<rect x="1937.10" y="151.05" width="28.8" height="28.8" fill="#C49A00" stroke="#333333" stroke-width="2"/>
<text y="174.61" font-size="25.75"><tspan x="1981.80" textLength="75.75" lengthAdjust="spacingAndGlyphs">CCR7+</tspan> <tspan x="2064.05" textLength="68.12" lengthAdjust="spacingAndGlyphs">SELL+</tspan> <tspan x="2138.68" textLength="62.73" lengthAdjust="spacingAndGlyphs">naive</tspan> <tspan x="2207.90" textLength="48.35" lengthAdjust="spacingAndGlyphs">CD8</tspan></text>
<rect x="1937.10" y="183.05" width="28.8" height="28.8" fill="#A9A400" stroke="#333333" stroke-width="2"/>
<text y="206.58" font-size="25.75"><tspan x="1981.80" textLength="76.95" lengthAdjust="spacingAndGlyphs">CD14+</tspan> <tspan x="2065.25" textLength="54.70" lengthAdjust="spacingAndGlyphs">ISG+</tspan> <tspan x="2126.45" textLength="128.22" lengthAdjust="spacingAndGlyphs">Monocytes</tspan></text>
<rect x="1937.10" y="215.05" width="28.8" height="28.8" fill="#86AC00" stroke="#333333" stroke-width="2"/>
<text y="238.55" font-size="25.75"><tspan x="1981.80" textLength="76.95" lengthAdjust="spacingAndGlyphs">CD14+</tspan> <tspan x="2065.25" textLength="128.22" lengthAdjust="spacingAndGlyphs">Monocytes</tspan></text>
<rect x="1937.10" y="247.05" width="28.8" height="28.8" fill="#53B400" stroke="#333333" stroke-width="2"/>
<text y="270.52" font-size="25.75"><tspan x="1981.80" textLength="78.45" lengthAdjust="spacingAndGlyphs">CD1C+</tspan> <tspan x="2066.75" textLength="104.55" lengthAdjust="spacingAndGlyphs">dendritic</tspan> <tspan x="2177.80" textLength="50.98" lengthAdjust="spacingAndGlyphs">cells</tspan></text>
<rect x="1937.10" y="279.05" width="28.8" height="28.8" fill="#00BA38" stroke="#333333" stroke-width="2"/>
<text y="302.49" font-size="25.75"><tspan x="1981.80" textLength="48.35" lengthAdjust="spacingAndGlyphs">CD4</tspan></text>
<rect x="1937.10" y="311.05" width="28.8" height="28.8" fill="#00BE6D" stroke="#333333" stroke-width="2"/>
<text y="334.46" font-size="25.75"><tspan x="1981.80" textLength="107.10" lengthAdjust="spacingAndGlyphs">FCGR3A+</tspan> <tspan x="2095.40" textLength="128.22" lengthAdjust="spacingAndGlyphs">Monocytes</tspan></text>
<rect x="1937.10" y="343.05" width="28.8" height="28.8" fill="#00C094" stroke="#333333" stroke-width="2"/>
<text y="366.43" font-size="25.75"><tspan x="1981.80" textLength="86.03" lengthAdjust="spacingAndGlyphs">FCRL5+</tspan> <tspan x="2074.32" textLength="90.10" lengthAdjust="spacingAndGlyphs">atypical</tspan> <tspan x="2170.92" textLength="99.05" lengthAdjust="spacingAndGlyphs">memory</tspan> <tspan x="2276.47" textLength="16.25" lengthAdjust="spacingAndGlyphs">B</tspan> <tspan x="2299.22" textLength="50.98" lengthAdjust="spacingAndGlyphs">cells</tspan></text>
<rect x="1937.10" y="375.05" width="28.8" height="28.8" fill="#00C0B5" stroke="#333333" stroke-width="2"/>
<text y="398.40" font-size="25.75"><tspan x="1981.80" textLength="129.07" lengthAdjust="spacingAndGlyphs">Fibroblasts</tspan></text>
<rect x="1937.10" y="407.05" width="28.8" height="28.8" fill="#00BDD2" stroke="#333333" stroke-width="2"/>
<text y="430.37" font-size="25.75"><tspan x="1981.80" textLength="84.95" lengthAdjust="spacingAndGlyphs">GZMK+</tspan> <tspan x="2073.25" textLength="48.35" lengthAdjust="spacingAndGlyphs">CD8</tspan></text>
<rect x="1937.10" y="439.05" width="28.8" height="28.8" fill="#00B6EB" stroke="#333333" stroke-width="2"/>
<text y="462.34" font-size="25.75"><tspan x="1981.80" textLength="146.03" lengthAdjust="spacingAndGlyphs">Hepatocytes</tspan></text>
<rect x="1937.10" y="471.05" width="28.8" height="28.8" fill="#00ABFD" stroke="#333333" stroke-width="2"/>
<text y="494.31" font-size="25.75"><tspan x="1981.80" textLength="76.53" lengthAdjust="spacingAndGlyphs">Innate</tspan> <tspan x="2064.82" textLength="13.90" lengthAdjust="spacingAndGlyphs">T</tspan> <tspan x="2085.22" textLength="87.40" lengthAdjust="spacingAndGlyphs">cell-like</tspan></text>
<rect x="1937.10" y="503.05" width="28.8" height="28.8" fill="#619CFF" stroke="#333333" stroke-width="2"/>
<text y="526.28" font-size="25.75"><tspan x="1981.80" textLength="90.92" lengthAdjust="spacingAndGlyphs">KLRG1+</tspan> <tspan x="2079.22" textLength="48.35" lengthAdjust="spacingAndGlyphs">CD8</tspan></text>
<rect x="1937.10" y="535.05" width="28.8" height="28.8" fill="#A58AFF" stroke="#333333" stroke-width="2"/>
<text y="558.25" font-size="25.75"><tspan x="1981.80" textLength="89.53" lengthAdjust="spacingAndGlyphs">MKI67+</tspan> <tspan x="2077.82" textLength="146.82" lengthAdjust="spacingAndGlyphs">Proliferating</tspan></text>
<rect x="1937.10" y="567.05" width="28.8" height="28.8" fill="#D078FF" stroke="#333333" stroke-width="2"/>
<text y="590.22" font-size="25.75"><tspan x="1981.80" textLength="34.48" lengthAdjust="spacingAndGlyphs">NK</tspan></text>
<rect x="1937.10" y="599.05" width="28.8" height="28.8" fill="#EC69EF" stroke="#333333" stroke-width="2"/>
<text y="622.19" font-size="25.75"><tspan x="1981.80" textLength="84.97" lengthAdjust="spacingAndGlyphs">Plasma</tspan></text>
<rect x="1937.10" y="631.05" width="28.8" height="28.8" fill="#FB61D7" stroke="#333333" stroke-width="2"/>
<text y="654.16" font-size="25.75"><tspan x="1981.80" textLength="100.28" lengthAdjust="spacingAndGlyphs">Platelets</tspan></text>
<rect x="1937.10" y="663.05" width="28.8" height="28.8" fill="#FF63B9" stroke="#333333" stroke-width="2"/>
<text y="686.13" font-size="25.75"><tspan x="1981.80" textLength="87.38" lengthAdjust="spacingAndGlyphs">TCL1A+</tspan> <tspan x="2075.68" textLength="62.73" lengthAdjust="spacingAndGlyphs">naive</tspan> <tspan x="2144.90" textLength="16.25" lengthAdjust="spacingAndGlyphs">B</tspan> <tspan x="2167.65" textLength="50.98" lengthAdjust="spacingAndGlyphs">cells</tspan></text>
<rect x="1937.10" y="695.05" width="28.8" height="28.8" fill="#FF6B96" stroke="#333333" stroke-width="2"/>
<text y="718.10" font-size="25.75"><tspan x="1981.80" textLength="71.15" lengthAdjust="spacingAndGlyphs">TLR7+</tspan> <tspan x="2059.45" textLength="155.95" lengthAdjust="spacingAndGlyphs">plasmacytoid</tspan> <tspan x="2221.90" textLength="34.05" lengthAdjust="spacingAndGlyphs">DC</tspan></text>
</svg></body></html>
